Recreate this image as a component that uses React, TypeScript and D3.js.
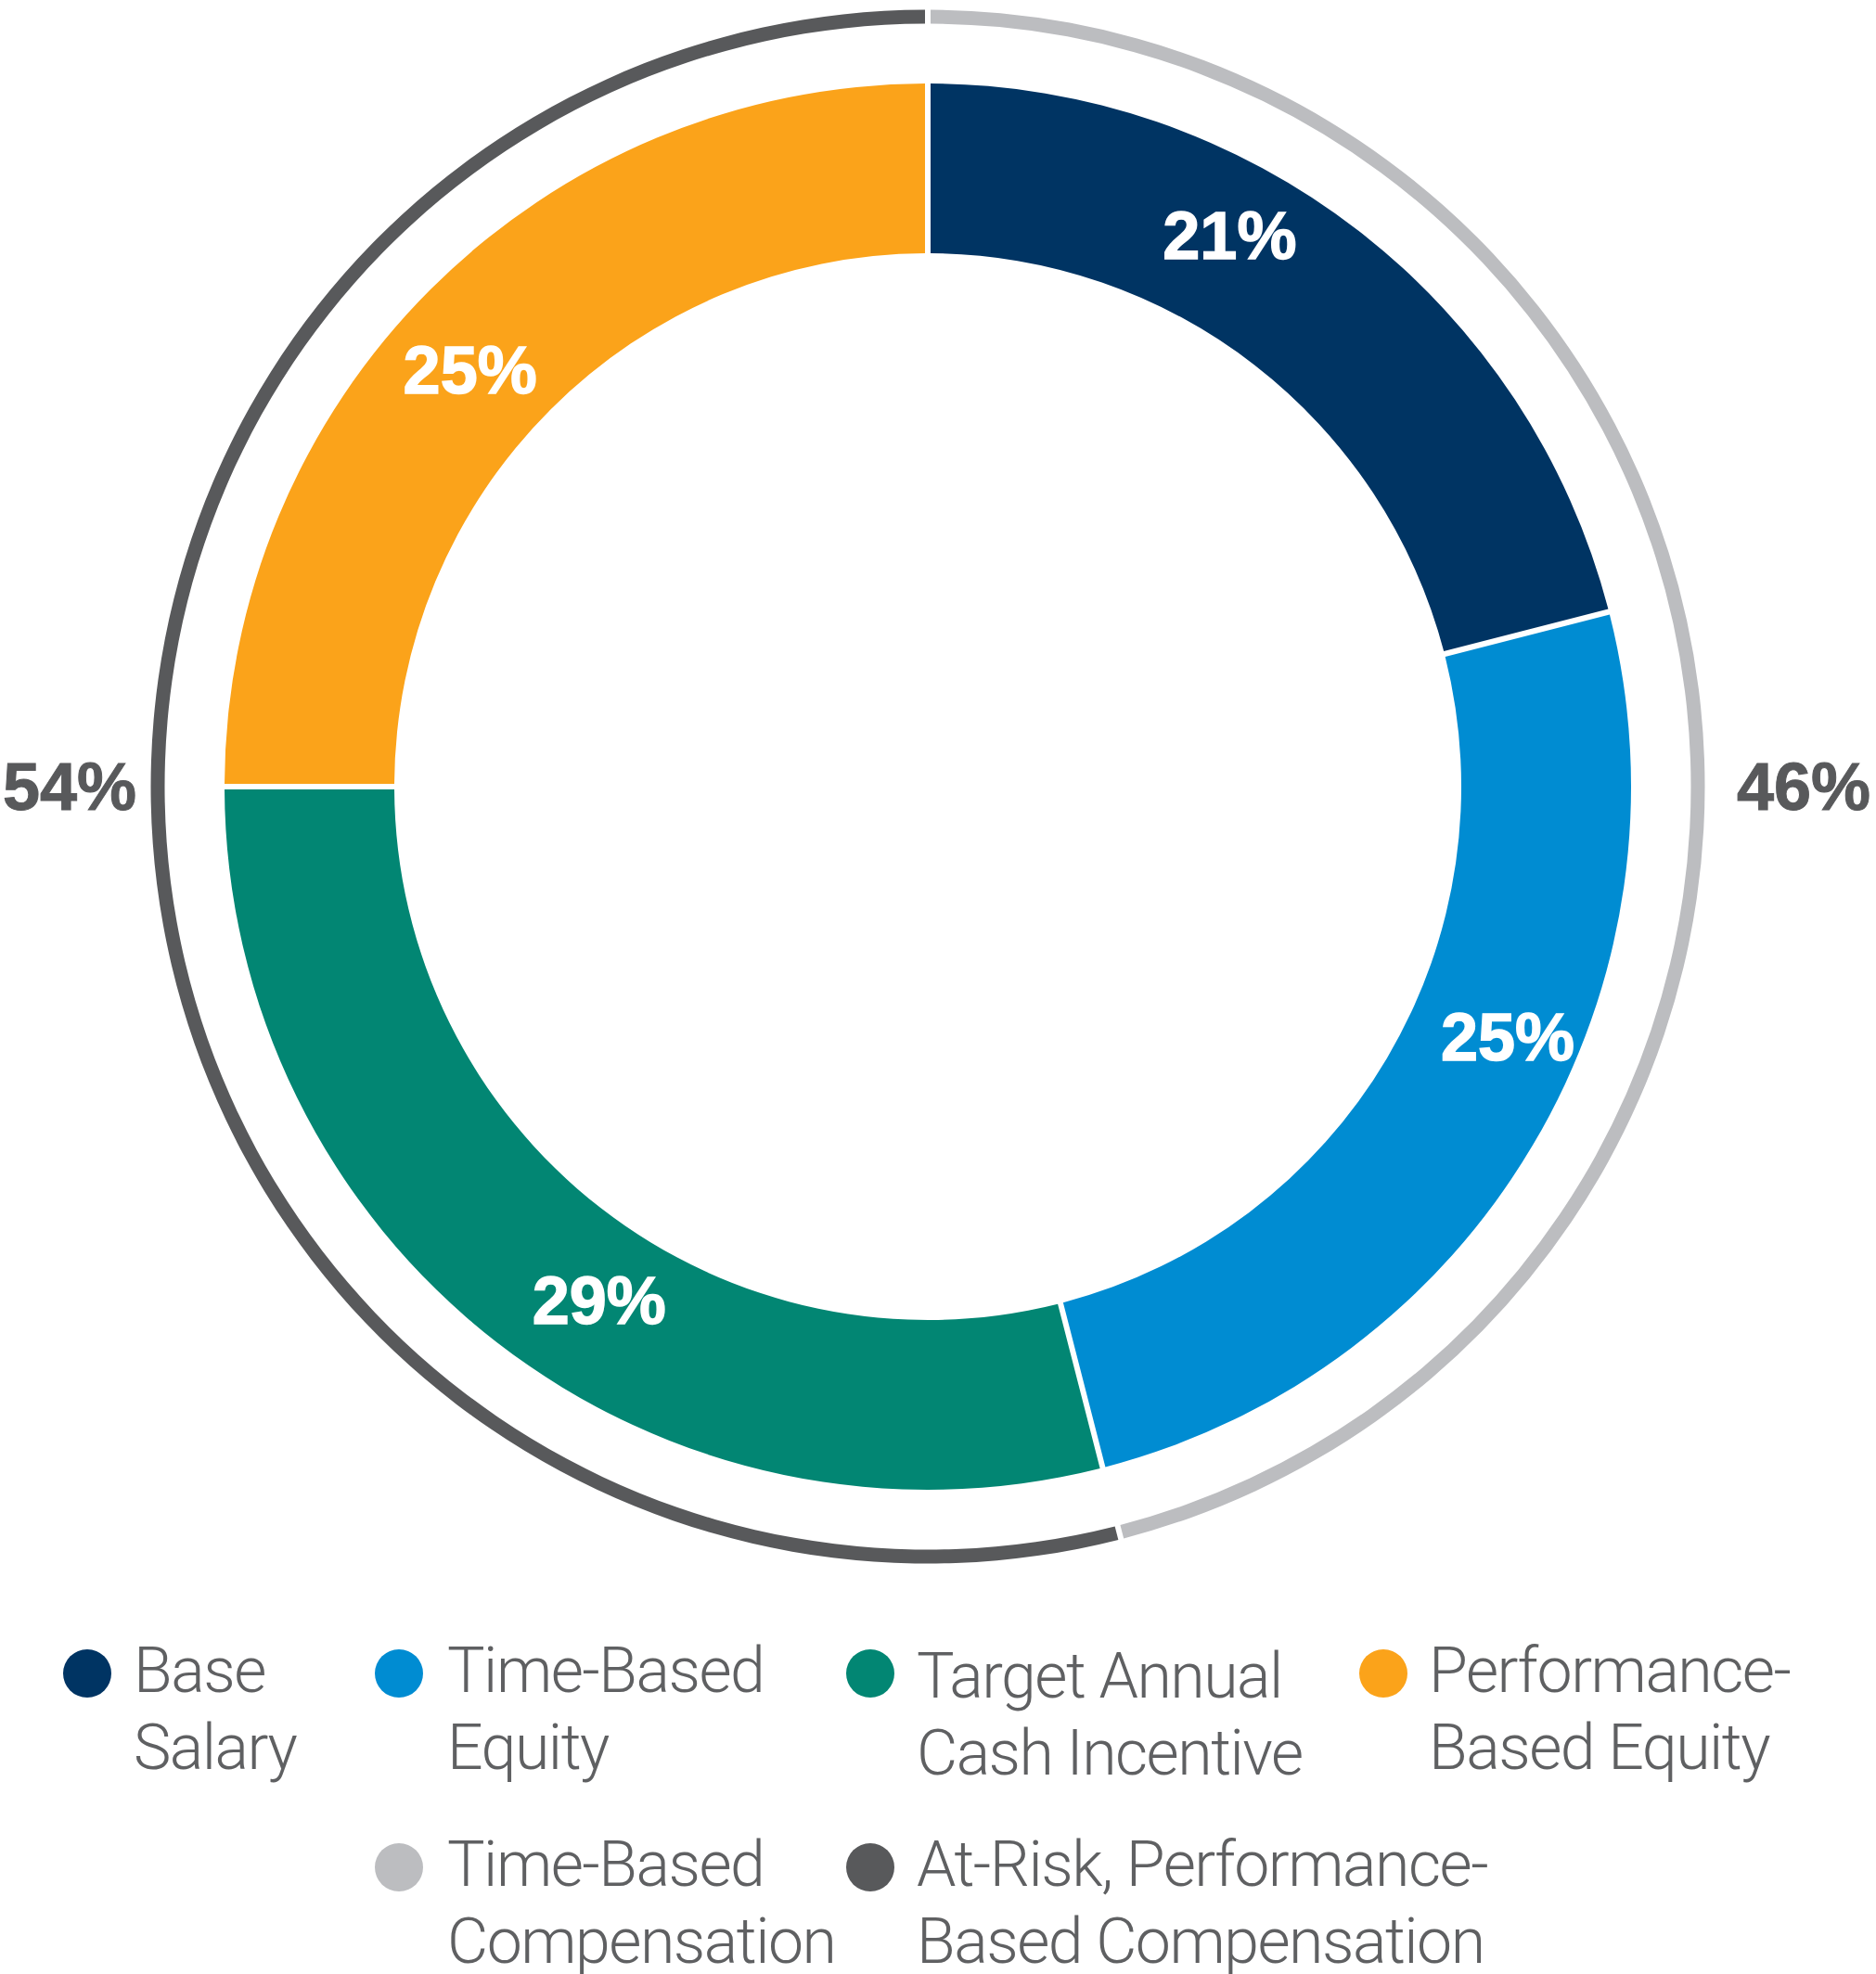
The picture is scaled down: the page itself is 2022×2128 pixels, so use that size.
import React from "react";
import * as d3 from "d3";

const categories = ["Base Salary", "Time-Based Equity", "Target Annual Cash Incentive", "Performance-Based Equity"];
const values = [21, 25, 29, 25];
const colors = ["#003463", "#008cd2", "#028673", "#fba31a"];

const groupNames = ["Time-Based Compensation", "At-Risk, Performance-Based Compensation"];
const groupValues = [46, 54];
const groupColors = ["#bcbdc0", "#58595b"];

const legendLines = [
  ["Base", "Salary"],
  ["Time-Based", "Equity"],
  ["Target Annual", "Cash Incentive"],
  ["Performance-", "Based Equity"],
  ["Time-Based", "Compensation"],
  ["At-Risk, Performance-", "Based Compensation"],
];
const legendColors = [...colors, ...groupColors];

// label placement: fraction along each slice's angular span, and radius
const labelFrac = [0.38, 0.42, 0.45, 0.47];
const labelRad = [677, 681, 658, 667];

const W = 2022;
const H = 2128;
const cx = 1000;
const cy = 848;
const rInner = 575;
const rOuter = 758;
const ringR = 830;
const ringW = 15;

export default function App() {
  const pie = d3.pie<number>().sort(null).value((d) => d);
  const slices = pie(values);
  const ringSlices = pie(groupValues);
  const arc = d3
    .arc<d3.PieArcDatum<number>>()
    .innerRadius(rInner)
    .outerRadius(rOuter)
    .padRadius(100)
    .padAngle(0.06);
  const ringArc = d3
    .arc<d3.PieArcDatum<number>>()
    .innerRadius(ringR - ringW / 2)
    .outerRadius(ringR + ringW / 2)
    .padRadius(100)
    .padAngle(0.06);

  const colX = [94, 430, 938, 1491];
  const textX = [144, 482, 988, 1540];
  const legendPos = [
    [0, 0], [1, 0], [2, 0], [3, 0], [1, 1], [2, 1],
  ];
  const rowY = [1824, 2033];
  const lineGap = 83;

  return (
    <svg
      width={W}
      height={H}
      style={{ position: "absolute", left: 0, top: 0, background: "#fff" }}
    >
      <g transform={`translate(${cx},${cy})`}>
        {slices.map((s, i) => (
          <path key={i} d={arc(s) || ""} fill={colors[i]} />
        ))}
        {ringSlices.map((s, i) => (
          <path key={"r" + i} d={ringArc(s) || ""} fill={groupColors[i]} />
        ))}
        {slices.map((s, i) => {
          const a = s.startAngle + labelFrac[i] * (s.endAngle - s.startAngle);
          const x = labelRad[i] * Math.sin(a);
          const y = -labelRad[i] * Math.cos(a);
          return (
            <text
              key={"l" + i}
              x={x}
              y={y}
              textAnchor="middle"
              dominantBaseline="central"
              fill="#fff"
              stroke="#fff"
              strokeWidth={1.5}
              fontFamily="'Liberation Sans', Arial, sans-serif"
              fontWeight="bold"
              fontSize={72}
            >
              {values[i]}%
            </text>
          );
        })}
        <text
          x={ringR + 42}
          y={0}
          textAnchor="start"
          dominantBaseline="central"
          fill="#58595b"
          stroke="#58595b"
          strokeWidth={1}
          fontFamily="'Liberation Sans', Arial, sans-serif"
          fontWeight="bold"
          fontSize={72}
        >
          {groupValues[0]}%
        </text>
        <text
          x={-ringR - 23}
          y={0}
          textAnchor="end"
          dominantBaseline="central"
          fill="#58595b"
          stroke="#58595b"
          strokeWidth={1}
          fontFamily="'Liberation Sans', Arial, sans-serif"
          fontWeight="bold"
          fontSize={72}
        >
          {groupValues[1]}%
        </text>
      </g>
      {legendLines.map((lines, i) => {
        const [c, r] = legendPos[i];
        const y0 = rowY[r] + (i === 2 ? 6 : 0);
        return (
          <g key={"lg" + i}>
            <circle cx={colX[c]} cy={rowY[r] - 20} r={26} fill={legendColors[i]} />
            {lines.map((ln, j) => (
              <text
                key={j}
                x={textX[c]}
                y={y0 + j * lineGap}
                fill="#5f6062"
                fontFamily="Roboto, 'Liberation Sans', sans-serif"
                fontWeight={300}
                fontSize={68}
                letterSpacing={-1.5}
              >
                {ln}
              </text>
            ))}
          </g>
        );
      })}
    </svg>
  );
}
